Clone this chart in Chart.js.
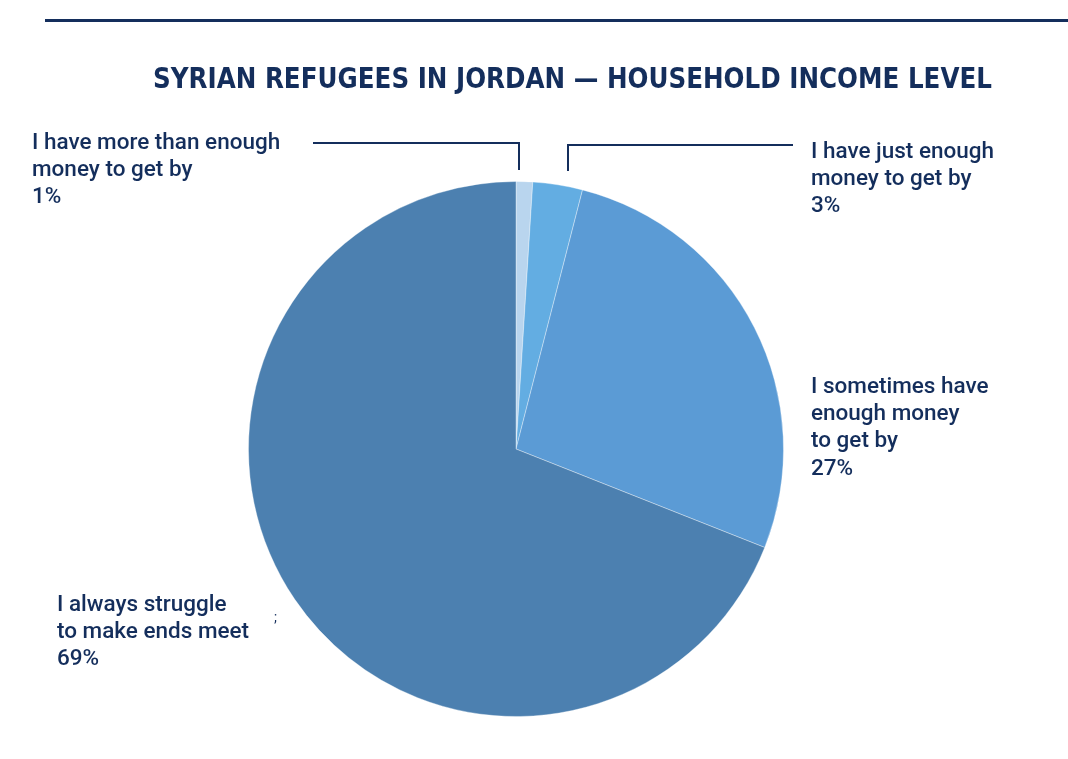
<!DOCTYPE html>
<html>
<head>
<meta charset="utf-8">
<script src="https://cdn.jsdelivr.net/npm/chart.js@4"></script>
<style>
html,body{margin:0;padding:0;background:#ffffff;}
#wrap{position:relative;width:1068px;height:759px;}
</style>
</head>
<body>
<div id="wrap"><canvas id="c" width="1068" height="759"></canvas></div>
<script>
const title = "SYRIAN REFUGEES IN JORDAN \u2014 HOUSEHOLD INCOME LEVEL";
const categories = [
  "I have more than enough money to get by",
  "I have just enough money to get by",
  "I sometimes have enough money to get by",
  "I always struggle to make ends meet"
];
const values = [1, 3, 27, 69];
const labelLines = [
  ["I have more than enough", "money to get by", "1%"],
  ["I have just enough", "money to get by", "3%"],
  ["I sometimes have", "enough money", "to get by", "27%"],
  ["I always struggle", "to make ends meet", "69%"]
];
const colors = ["#b9d5ee", "#63ade2", "#5b9bd5", "#4c80b0"];
const navy = "#142e5c";

const labelPlugin = {
  id: 'labels',
  afterDraw(chart) {
    const ctx = chart.ctx;
    ctx.save();
    // top rule
    ctx.fillStyle = navy;
    ctx.fillRect(45, 19, 1023, 3);
    // title
    ctx.font = "bold 29px 'DejaVu Sans Condensed', 'Liberation Sans Narrow', sans-serif";
    ctx.textBaseline = 'middle';
    ctx.textAlign = 'left';
    const tw = ctx.measureText(title).width;
    const target = 839;
    ctx.save();
    ctx.translate(153, 80);
    ctx.scale(target / tw, 1);
    ctx.fillText(title, 0, 0);
    ctx.restore();

    // labels
    ctx.font = "500 22.5px Roboto, sans-serif";
    ctx.fillStyle = navy;
    const pos = [
      {x: 32, y: 143},
      {x: 811, y: 152},
      {x: 811, y: 387},
      {x: 57, y: 605}
    ];
    labelLines.forEach((lines, i) => {
      lines.forEach((t, j) => {
        ctx.fillText(t, pos[i].x, pos[i].y + j * 27.3);
      });
    });
    // stray mark
    ctx.font = "14px Roboto, sans-serif";
    ctx.fillText(";", 274, 618);

    // leader lines
    ctx.strokeStyle = navy;
    ctx.lineWidth = 2;
    ctx.beginPath();
    ctx.moveTo(313, 143); ctx.lineTo(519, 143); ctx.lineTo(519, 170);
    ctx.moveTo(568, 171); ctx.lineTo(568, 145); ctx.lineTo(793, 145);
    ctx.stroke();
    ctx.restore();
  }
};

new Chart(document.getElementById('c'), {
  type: 'pie',
  data: {
    labels: categories,
    datasets: [{
      data: values,
      backgroundColor: colors,
      borderColor: 'rgba(255,255,255,0.35)',
      borderWidth: 1
    }]
  },
  options: {
    responsive: false,
    animation: false,
    layout: { padding: { top: 180, bottom: 41, left: 248, right: 284 } },
    plugins: {
      legend: { display: false },
      tooltip: { enabled: false }
    }
  },
  plugins: [labelPlugin]
});
</script>
</body>
</html>
